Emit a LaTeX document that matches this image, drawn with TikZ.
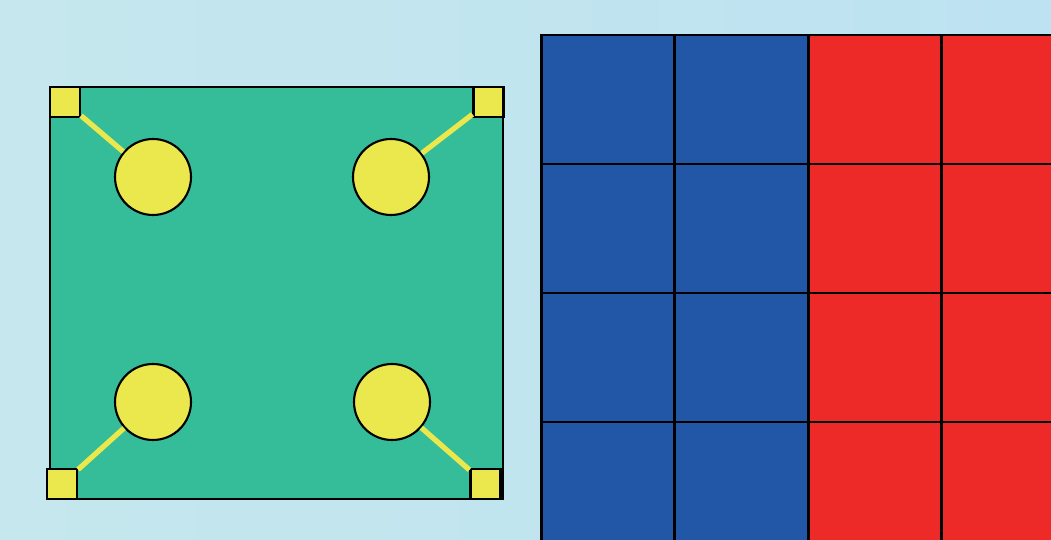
\documentclass[tikz,border=0pt]{standalone}
\usepackage{xcolor}
\usepackage{tikz}
\usetikzlibrary{positioning}
\definecolor{skyleft}{RGB}{197,231,237}
\definecolor{skyright}{RGB}{189,226,241}
\definecolor{boardgreen}{RGB}{52,189,152}
\definecolor{padyellow}{RGB}{234,232,76}
\definecolor{cellblue}{RGB}{34,87,167}
\definecolor{cellred}{RGB}{238,42,41}
\tikzset{
  board/.style={draw, line width=1.2pt, fill=boardgreen},
  pad/.style={draw, line width=1.2pt, fill=padyellow, minimum size=0.6cm, inner sep=0pt},
  hole/.style={draw, circle, line width=1.2pt, fill=padyellow, minimum size=1.52cm, inner sep=0pt},
  link/.style={draw=padyellow, line width=3pt},
  gridline/.style={line width=1.7pt}
}

\begin{document}
\begin{tikzpicture}[x=0.02cm, y=-0.02cm]
  \useasboundingbox (0,0) rectangle (1051,540);
  \clip (0,0) rectangle (1051,540);
  \shade[left color=skyleft, right color=skyright] (0,0) rectangle (1051,540);
  % board with four mounting holes
  \draw[board] (50,87) rectangle (503,499);
  \node[pad] (padTL) at (65,102) {};
  \node[pad] (padTR) at (488.5,102) {};
  \node[pad] (padBL) at (62,484) {};
  \node[pad] (padBR) at (485.5,484) {};
  \node[hole] (holeTL) at (153,177) {};
  \node[hole] (holeTR) at (391,177) {};
  \node[hole] (holeBL) at (153,402) {};
  \node[hole] (holeBR) at (392,402) {};
  \draw[link] (padTL) -- (holeTL);
  \draw[link] (padTR) -- (holeTR);
  \draw[link] (padBL) -- (holeBL);
  \draw[link] (padBR) -- (holeBR);
  % colour grid
  \fill[cellblue] (541,35) rectangle (808,560);
  \fill[cellred] (808,35) rectangle (1075,560);
  \draw[gridline] (541,560) -- (541,35) -- (1075,35);
  \draw[gridline] (674.5,35) -- (674.5,560);
  \draw[gridline] (808,35) -- (808,560);
  \draw[gridline] (941.5,35) -- (941.5,560);
  \draw[gridline] (541,164) -- (1075,164);
  \draw[gridline] (541,293) -- (1075,293);
  \draw[gridline] (541,422) -- (1075,422);
\end{tikzpicture}
\end{document}
